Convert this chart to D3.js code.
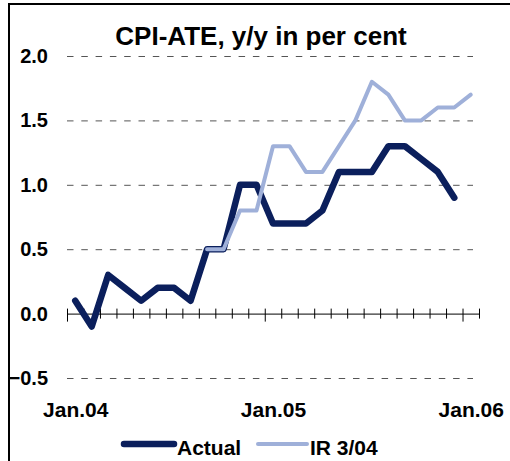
<!DOCTYPE html>
<html>
<head>
<meta charset="utf-8">
<script src="https://cdn.jsdelivr.net/npm/d3@7"></script>
<style>
  html, body { margin: 0; padding: 0; background: #fff; }
  svg { display: block; font-family: "Liberation Sans", Arial, sans-serif; font-weight: bold; }
</style>
</head>
<body>
<div id="chart"></div>
<script>
'use strict';

var months = ['Jan.04', 'Feb.04', 'Mar.04', 'Apr.04', 'May.04', 'Jun.04', 'Jul.04', 'Aug.04', 'Sep.04', 'Oct.04', 'Nov.04', 'Dec.04',
    'Jan.05', 'Feb.05', 'Mar.05', 'Apr.05', 'May.05', 'Jun.05', 'Jul.05', 'Aug.05', 'Sep.05', 'Oct.05', 'Nov.05', 'Dec.05',
    'Jan.06'];
var actual = [0.1, -0.1, 0.3, 0.2, 0.1, 0.2, 0.2, 0.1, 0.5, 0.5, 1.0, 1.0,
    0.7, 0.7, 0.7, 0.8, 1.1, 1.1, 1.1, 1.3, 1.3, 1.2, 1.1, 0.9, null];
var ir304 = [null, null, null, null, null, null, null, null, 0.5, 0.5, 0.8, 0.8,
    1.3, 1.3, 1.1, 1.1, 1.3, 1.5, 1.8, 1.7, 1.5, 1.5, 1.6, 1.6, 1.7];
var yTicks = [-0.5, 0, 0.5, 1.0, 1.5, 2.0];
var xTickLabels = ['Jan.04', 'Jan.05', 'Jan.06'];

var width = 510, height = 461;
var margin = {top: 56, right: 31, bottom: 83, left: 67};

var svg = d3.select('#chart').append('svg')
    .attr('width', width)
    .attr('height', height);

// outer frame (only left and top edges fall inside the window)
svg.append('path')
    .attr('d', 'M9,' + height + 'V4H' + width)
    .attr('fill', 'none')
    .attr('stroke', '#000')
    .attr('stroke-width', 2);

var yScale = d3.scaleLinear()
    .domain([-0.5, 2.0])
    .range([height - margin.bottom, margin.top]);

// category slots, boundaries at integers, points at the middle
var xScale = d3.scaleLinear()
    .domain([0, months.length])
    .range([margin.left, width - margin.right]);

svg.append('text')
    .attr('x', 261)
    .attr('y', 45)
    .attr('text-anchor', 'middle')
    .attr('font-size', 26)
    .text('CPI-ATE, y/y in per cent');

var gridRight = 473;
var yAxis = d3.axisLeft(yScale)
    .tickValues(yTicks)
    .tickFormat(d3.format('.1f'))
    .tickSize(-(gridRight - margin.left))
    .tickPadding(19);
var yAxisEle = svg.append('g')
    .attr('transform', 'translate(' + margin.left + ',0)')
    .call(yAxis);
yAxisEle.select('.domain').remove();
yAxisEle.selectAll('.tick line')
    .attr('stroke', function(d) { return d === 0 ? 'none' : '#555'; })
    .attr('stroke-dasharray', '6.5,7.8');
yAxisEle.selectAll('.tick text')
    .attr('font-size', 20)
    .attr('fill', '#000');

// zero line with category tick marks
var zeroAxis = d3.axisBottom(xScale)
    .tickValues(d3.range(months.length + 1))
    .tickSize(0)
    .tickFormat('');
var zeroEle = svg.append('g')
    .attr('transform', 'translate(0,' + yScale(0) + ')')
    .call(zeroAxis);
zeroEle.select('.domain')
    .attr('stroke', '#000')
    .attr('stroke-width', 1);
zeroEle.selectAll('.tick line')
    .attr('stroke', '#000')
    .attr('y1', -5)
    .attr('y2', function(d) { return d % 12 === 0 ? 8 : 5; });

var labelAxis = d3.axisBottom(xScale)
    .tickValues([0.5, 12.5, 24.5])
    .tickFormat(function(d, i) { return xTickLabels[i]; })
    .tickSize(0)
    .tickPadding(0);
var labelEle = svg.append('g')
    .attr('transform', 'translate(0,402)')
    .call(labelAxis);
labelEle.select('.domain').remove();
labelEle.selectAll('.tick text')
    .attr('font-size', 21)
    .attr('fill', '#000')
    .attr('dy', '0.71em');

var navy = '#0b1f5c';
var light = '#9fb0d9';

var line = d3.line()
    .defined(function(d) { return d !== null; })
    .x(function(d, i) { return xScale(i + 0.5); })
    .y(function(d) { return yScale(d); });

svg.append('path')
    .datum(actual)
    .attr('d', line)
    .attr('fill', 'none')
    .attr('stroke', navy)
    .attr('stroke-width', 6.5)
    .attr('stroke-linejoin', 'round')
    .attr('stroke-linecap', 'round');

svg.append('path')
    .datum(ir304)
    .attr('d', line)
    .attr('fill', 'none')
    .attr('stroke', light)
    .attr('stroke-width', 4)
    .attr('stroke-linejoin', 'round')
    .attr('stroke-linecap', 'round');

// legend
var legend = [
    {name: 'Actual', color: navy, w: 6.5, x1: 124, x2: 174, tx: 177},
    {name: 'IR 3/04', color: light, w: 4, x1: 258, x2: 307, tx: 310}
];
var legendEle = svg.append('g').selectAll('g')
    .data(legend)
    .enter()
    .append('g');
legendEle.append('line')
    .attr('x1', function(d) { return d.x1; })
    .attr('x2', function(d) { return d.x2; })
    .attr('y1', 444)
    .attr('y2', 444)
    .attr('stroke', function(d) { return d.color; })
    .attr('stroke-width', function(d) { return d.w; })
    .attr('stroke-linecap', 'round');
legendEle.append('text')
    .attr('x', function(d) { return d.tx; })
    .attr('y', 455)
    .attr('font-size', 21)
    .text(function(d) { return d.name; });
</script>
</body>
</html>
